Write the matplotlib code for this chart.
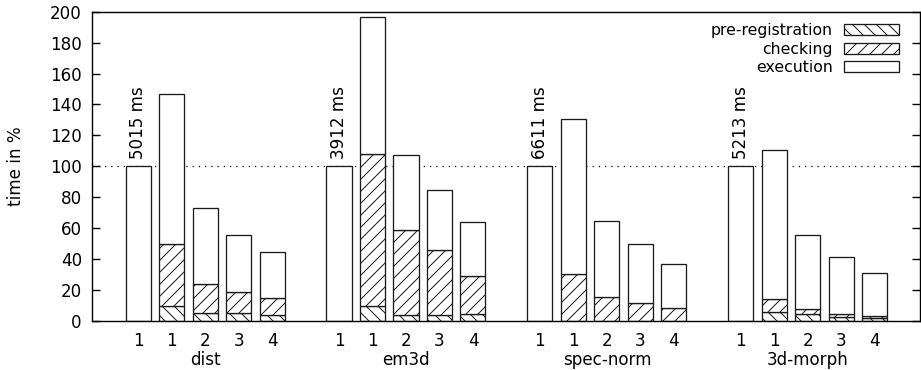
import matplotlib
matplotlib.use("Agg")
import matplotlib.pyplot as plt
import numpy as np

DPI = 72
plt.rcParams['font.family'] = ['DejaVu Sans']
plt.rcParams['hatch.linewidth'] = 1.0

groups = ["dist", "em3d", "spec-norm", "3d-morph"]
variant_labels = ["1", "1", "2", "3", "4"]
baseline_ms = ["5015 ms", "3912 ms", "6611 ms", "5213 ms"]

# per group, 5 bars each (time in % of baseline)
prereg = [
    [0, 9.7, 5.4, 4.9, 3.9],
    [0, 9.7, 4.1, 4.1, 4.3],
    [0, 0, 0, 0, 0],
    [0, 6.0, 4.3, 2.8, 2.1],
]
checking = [
    [0, 40.0, 18.5, 13.6, 11.2],
    [0, 98.0, 55.0, 41.7, 24.7],
    [0, 30.5, 15.3, 11.6, 8.6],
    [0, 8.0, 3.2, 1.7, 1.3],
]
execution = [
    [100, 96.8, 49.2, 37.4, 29.2],
    [100, 89.1, 48.4, 38.7, 35.1],
    [100, 99.8, 49.6, 38.3, 28.2],
    [100, 96.5, 48.4, 36.6, 27.6],
]

FS = 16.7     # px (1pt = 1px at dpi 72)
LFS = 15.8
fig = plt.figure(figsize=(921 / DPI, 370 / DPI), dpi=DPI)
ax = fig.add_axes([92 / 921, 49 / 370, 827.5 / 921, 309.3 / 370])

width = 0.75
edge = '#1a1a1a'
LW = 1.3
xpos_all = []
xlab_all = []
for g in range(len(groups)):
    base = g * 6
    xs = np.arange(5) + base
    p = np.array(prereg[g])
    c = np.array(checking[g])
    e = np.array(execution[g])
    ax.bar(xs, p, width, color='white', edgecolor=edge, linewidth=LW, hatch='\\\\',
           label='pre-registration' if g == 0 else None)
    ax.bar(xs, c, width, bottom=p, color='white', edgecolor=edge, linewidth=LW, hatch='//',
           label='checking' if g == 0 else None)
    ax.bar(xs, e, width, bottom=p + c, color='white', edgecolor=edge, linewidth=LW,
           label='execution' if g == 0 else None)
    ax.text(xs[0], 105, baseline_ms[g], rotation=90, ha='center', va='bottom', fontsize=FS)
    xpos_all.extend(xs)
    xlab_all.extend(variant_labels)

ax.axhline(100, color='black', linestyle=(0, (1, 4)), linewidth=1.25, zorder=0.5)

ax.set_xlim(-1.38, 23.34)
ax.set_ylim(0, 200)
ax.set_yticks(np.arange(0, 201, 20))
ax.tick_params(axis='y', direction='in', length=8, width=1.4, right=True, labelsize=FS, pad=10)
ax.xaxis.remove_overlapping_locs = False
ax.set_xticks(xpos_all)
ax.set_xticklabels(xlab_all)
ax.tick_params(axis='x', which='major', length=0, labelsize=FS, pad=11)
ax.set_xticks([g * 6 + 2 for g in range(len(groups))], minor=True)
ax.set_xticklabels(groups, minor=True)
ax.tick_params(axis='x', which='minor', length=0, labelsize=FS, pad=30)
for s in ax.spines.values():
    s.set_linewidth(1.4)

ax.set_ylabel('time in %', fontsize=FS, labelpad=25)

leg = ax.legend(loc='upper right', bbox_to_anchor=(0.9752, 0.962), frameon=False,
                markerfirst=False, fontsize=LFS,
                handlelength=55 / LFS, handleheight=11 / LFS, labelspacing=0.2,
                borderaxespad=0, handletextpad=11 / LFS, borderpad=0)

fig.savefig('out.png', dpi=DPI)
